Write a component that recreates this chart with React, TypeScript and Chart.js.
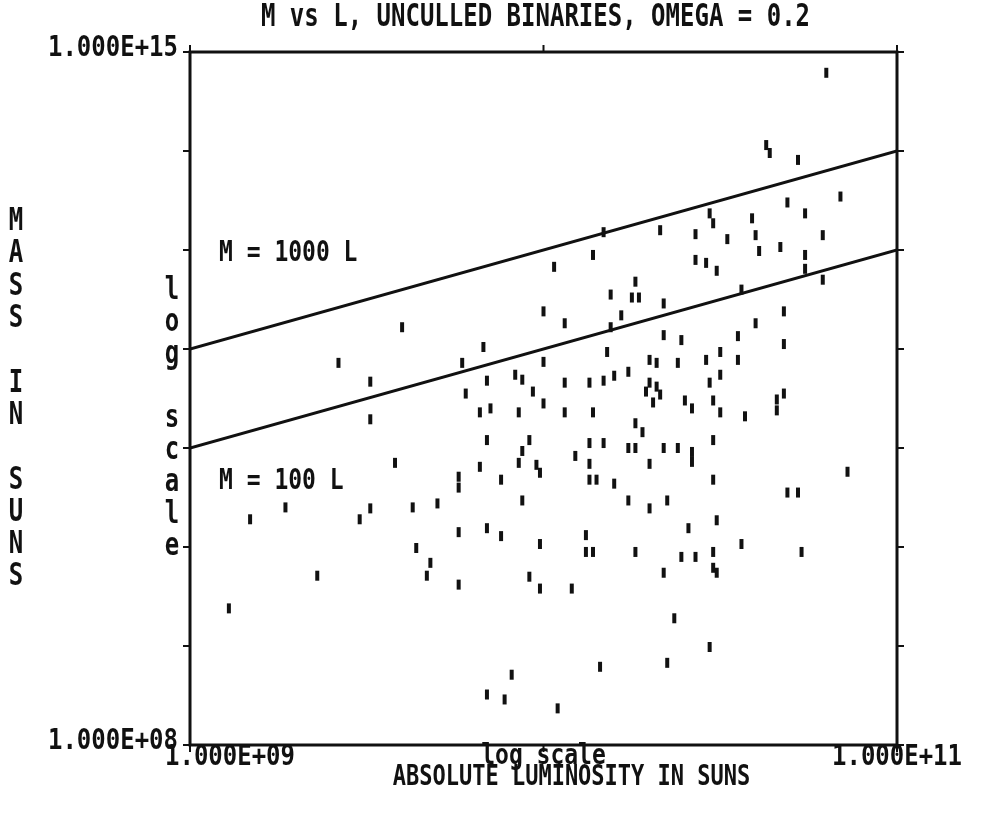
import React, { useEffect, useRef } from "react";
import { Chart, registerables } from "chart.js";

Chart.register(...registerables);

const TITLE = "M vs L, UNCULLED BINARIES, OMEGA = 0.2";
const X_TITLE = "ABSOLUTE LUMINOSITY IN SUNS";
const X_SUB = "log scale";
const Y_TITLE = "MASS IN SUNS";
const Y_SUB = "log scale";
const LINE_1000_LABEL = "M = 1000 L";
const LINE_100_LABEL = "M = 100 L";

const X_MIN = 1e9;
const X_MAX = 1e11;
const Y_MIN = 1e8;
const Y_MAX = 1e15;
const X_TICKS = [1e9, 1e10, 1e11];
const Y_TICKS = [1e8, 1e9, 1e10, 1e11, 1e12, 1e13, 1e14, 1e15];
const X_TICK_LABELS = ["1.000E+09", "", "1.000E+11"];
const Y_TICK_LABELS = ["1.000E+08", "", "", "", "", "", "", "1.000E+15"];

// reference lines M = 1000 L and M = 100 L
const LINE_L = [1e9, 1e11];
const LINE_M1000 = [1e12, 1e14];
const LINE_M100 = [1e11, 1e13];

// binaries: log10(luminosity), log10(mass)
const log10L = [
  10.80, 10.63, 10.64, 10.72, 10.84, 10.69, 10.74, 10.59, 10.47, 10.48,
  10.79, 10.43, 10.52, 10.60, 10.61, 10.67, 10.74, 10.33, 10.17, 10.14,
  10.03, 10.43, 10.46, 10.49, 10.74, 10.79, 10.56, 10.26, 10.25, 10.27,
  10.19, 10.34, 10.68, 10.22, 10.00, 10.06, 9.60, 10.60, 10.19, 9.83,
  10.34, 10.39, 10.55, 10.68, 9.42, 9.77, 10.00, 10.18, 10.50, 10.30,
  10.32, 10.38, 10.46, 10.55, 9.51, 9.84, 9.92, 9.94, 10.06, 10.13,
  10.17, 10.20, 10.24, 10.50, 10.30, 10.29, 10.32, 10.33, 10.31, 10.47,
  10.68, 10.66, 10.66, 9.78, 9.97, 10.00, 9.82, 9.85, 9.93, 10.06,
  10.14, 10.40, 10.42, 10.48, 10.50, 10.57, 9.51, 10.26, 10.28, 9.84,
  9.96, 9.94, 9.93, 9.98, 9.99, 10.13, 10.17, 10.24, 10.26, 10.34,
  10.38, 10.42, 10.42, 10.48, 9.58, 9.82, 9.76, 9.76, 9.88, 10.09,
  10.13, 10.30, 10.13, 10.15, 10.20, 10.48, 10.86, 10.69, 10.72, 9.94,
  10.24, 10.35, 10.30, 9.51, 9.63, 9.70, 9.27, 9.48, 9.17, 10.49,
  9.76, 9.84, 9.88, 9.99, 10.12, 10.41, 10.56, 10.12, 10.14, 10.26,
  10.39, 10.43, 10.48, 10.73, 9.64, 9.68, 9.67, 9.96, 9.99, 10.08,
  10.34, 10.48, 10.49, 9.36, 9.76, 9.11, 10.37, 10.47, 10.16, 10.35,
  9.91, 9.84, 9.89, 10.04,
];
const log10M = [
  14.79, 14.06, 13.98, 13.91, 13.54, 13.48, 13.37, 13.32, 13.37, 13.27,
  13.15, 13.16, 13.11, 13.15, 12.99, 13.03, 12.95, 13.20, 13.18, 12.95,
  12.83, 12.90, 12.87, 12.79, 12.81, 12.70, 12.60, 12.68, 12.52, 12.52,
  12.55, 12.46, 12.38, 12.34, 12.38, 12.26, 12.22, 12.26, 12.22, 12.02,
  12.14, 12.09, 12.13, 12.05, 11.86, 11.86, 11.87, 11.97, 11.97, 11.89,
  11.86, 11.86, 11.89, 11.89, 11.67, 11.68, 11.74, 11.69, 11.66, 11.66,
  11.68, 11.73, 11.77, 11.74, 11.66, 11.57, 11.62, 11.54, 11.46, 11.66,
  11.55, 11.49, 11.38, 11.55, 11.57, 11.45, 11.36, 11.40, 11.36, 11.36,
  11.36, 11.48, 11.40, 11.48, 11.36, 11.32, 11.29, 11.25, 11.16, 11.08,
  11.08, 10.97, 10.85, 10.83, 10.75, 11.05, 11.05, 11.00, 11.00, 11.00,
  11.00, 10.96, 10.86, 11.08, 10.85, 10.81, 10.71, 10.60, 10.68, 10.92,
  10.84, 10.84, 10.68, 10.68, 10.64, 10.68, 10.76, 10.55, 10.55, 10.47,
  10.47, 10.47, 10.39, 10.39, 10.40, 10.44, 10.40, 10.28, 10.28, 10.27,
  10.15, 10.19, 10.11, 10.03, 10.12, 10.19, 10.03, 9.95, 9.95, 9.95,
  9.90, 9.90, 9.95, 9.95, 9.99, 9.84, 9.71, 9.70, 9.58, 9.58,
  9.74, 9.79, 9.74, 9.71, 9.62, 9.38, 9.28, 8.99, 8.79, 8.83,
  8.71, 8.51, 8.46, 8.37,
];

const FONT = '"DejaVu Sans Mono", "Liberation Mono", monospace';

function drawText(
  ctx: CanvasRenderingContext2D,
  text: string,
  x: number,
  y: number,
  align: CanvasTextAlign,
  size: number,
  sy: number
) {
  ctx.save();
  ctx.font = `bold ${size}px ${FONT}`;
  ctx.fillStyle = "#111";
  ctx.textAlign = align;
  ctx.textBaseline = "middle";
  ctx.translate(x, y);
  ctx.scale(1, sy);
  ctx.fillText(text, 0, 0);
  ctx.restore();
}

const framePlugin = {
  id: "oldFrame",
  afterDraw(chart: any) {
    const ctx: CanvasRenderingContext2D = chart.ctx;
    const { left, right, top, bottom } = chart.chartArea;
    const xs = chart.scales.x;
    const ys = chart.scales.y;
    ctx.save();
    ctx.strokeStyle = "#111";
    ctx.lineWidth = 3;
    ctx.strokeRect(left, top, right - left, bottom - top);
    ctx.lineWidth = 2;
    const T = 7;
    ctx.beginPath();
    X_TICKS.forEach((v) => {
      const px = xs.getPixelForValue(v);
      ctx.moveTo(px, bottom);
      ctx.lineTo(px, bottom + T);
      ctx.moveTo(px, top);
      ctx.lineTo(px, top - T);
    });
    Y_TICKS.forEach((v) => {
      const py = ys.getPixelForValue(v);
      ctx.moveTo(left, py);
      ctx.lineTo(left - T, py);
      ctx.moveTo(right, py);
      ctx.lineTo(right + T, py);
    });
    ctx.stroke();
    ctx.restore();

    // title
    drawText(ctx, TITLE, (left + right) / 2 - 8, 18, "center", 24, 1.3);

    // x tick labels
    X_TICKS.forEach((v, i) => {
      if (!X_TICK_LABELS[i]) return;
      const px = xs.getPixelForValue(v);
      const ax = i === 0 ? px + 40 : px;
      drawText(ctx, X_TICK_LABELS[i], ax, bottom + 13, "center", 24, 1.2);
    });
    drawText(ctx, X_SUB, xs.getPixelForValue(1e10), bottom + 12, "center", 23, 1.2);
    drawText(ctx, X_TITLE, (left + right) / 2 + 28, bottom + 33, "center", 22, 1.25);

    // y tick labels
    Y_TICKS.forEach((v, i) => {
      if (!Y_TICK_LABELS[i]) return;
      const py = ys.getPixelForValue(v);
      drawText(ctx, Y_TICK_LABELS[i], left - 12, py - 3, "right", 24, 1.2);
    });

    // vertical y titles
    const yt = Y_TITLE.split("");
    yt.forEach((ch, i) => {
      if (ch === " ") return;
      drawText(ctx, ch, 16, 222 + i * 32.3, "center", 24, 1.3);
    });
    const ys2 = Y_SUB.split("");
    ys2.forEach((ch, i) => {
      if (ch === " ") return;
      drawText(ctx, ch, left - 18, 291 + i * 32, "center", 24, 1.3);
    });

    // line labels
    drawText(ctx, LINE_1000_LABEL, left + 29, 254, "left", 23, 1.25);
    drawText(ctx, LINE_100_LABEL, left + 29, 482, "left", 23, 1.25);
  },
};

export default function App() {
  const ref = useRef<HTMLCanvasElement | null>(null);
  useEffect(() => {
    if (!ref.current) return;
    const points = log10L.map((lx, i) => ({ x: Math.pow(10, lx), y: Math.pow(10, log10M[i]) }));
    const chart = new Chart(ref.current, {
      type: "scatter",
      data: {
        datasets: [
          {
            label: "M = 1000 L",
            data: LINE_L.map((l, i) => ({ x: l, y: LINE_M1000[i] })),
            showLine: true,
            borderColor: "#111",
            borderWidth: 3,
            pointRadius: 0,
            type: "line" as any,
          },
          {
            label: "M = 100 L",
            data: LINE_L.map((l, i) => ({ x: l, y: LINE_M100[i] })),
            showLine: true,
            borderColor: "#111",
            borderWidth: 3,
            pointRadius: 0,
            type: "line" as any,
          },
          {
            label: "binaries",
            data: points,
            pointStyle: "line",
            rotation: 90,
            pointRadius: 5,
            pointBorderWidth: 4,
            borderColor: "#111",
            backgroundColor: "#111",
            pointBorderColor: "#111",
          } as any,
        ],
      },
      options: {
        animation: false,
        responsive: false,
        devicePixelRatio: 1,
        layout: { padding: { left: 190, right: 98, top: 52, bottom: 84 } },
        plugins: { legend: { display: false }, title: { display: false }, tooltip: { enabled: false } },
        scales: {
          x: { type: "logarithmic", min: X_MIN, max: X_MAX, display: false },
          y: { type: "logarithmic", min: Y_MIN, max: Y_MAX, display: false },
        },
      },
      plugins: [framePlugin],
    });
    return () => chart.destroy();
  }, []);
  return (
    <div style={{ position: "absolute", left: 0, top: 0, width: 995, height: 829, background: "#fff" }}>
      <canvas ref={ref} width={995} height={829} />
    </div>
  );
}
